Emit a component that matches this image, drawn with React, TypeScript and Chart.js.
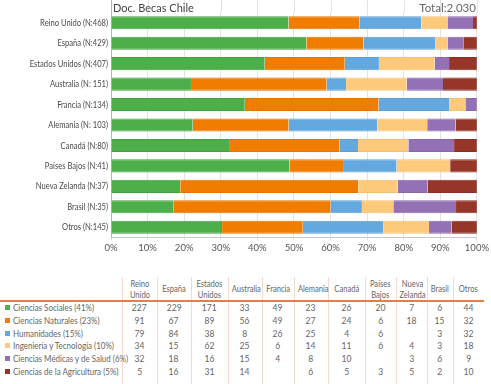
import React, { useEffect, useRef } from "react";
import { Chart, registerables } from "chart.js";

Chart.register(...registerables);

// ---- data ----
const countryLabels = [
  "Reino Unido (N:468)",
  "España (N:429)",
  "Estados Unidos (N:407)",
  "Australia (N: 151)",
  "Francia (N:134)",
  "Alemania (N: 103)",
  "Canadá (N:80)",
  "Países Bajos (N:41)",
  "Nueva Zelanda (N:37)",
  "Brasil (N:35)",
  "Otros (N:145)",
];
const tableHeaders = [
  "Reino\nUnido",
  "España",
  "Estados\nUnidos",
  "Australia",
  "Francia",
  "Alemania",
  "Canadá",
  "Países\nBajos",
  "Nueva\nZelanda",
  "Brasil",
  "Otros",
];
const fieldNames = [
  "Ciencias Sociales (41%)",
  "Ciencias Naturales (23%)",
  "Humanidades (15%)",
  "Ingeniería y Tecnología (10%)",
  "Ciencias Médicas y de Salud (6%)",
  "Ciencias de la Agricultura (5%)",
];
const sociales = [227, 229, 171, 33, 49, 23, 26, 20, 7, 6, 44];
const naturales = [91, 67, 89, 56, 49, 27, 24, 6, 18, 15, 32];
const humanidades = [79, 84, 38, 8, 26, 25, 4, 6, null, 3, 32];
const ingenieria = [34, 15, 62, 25, 6, 14, 11, 6, 4, 3, 18];
const medicas = [32, 18, 16, 15, 4, 8, 10, null, 3, 6, 9];
const agricultura = [5, 16, 31, 14, null, 6, 5, 3, 5, 2, 10];
const chartTitle = "Doc. Becas Chile";
const totalLabel = "Total:2.030";

// ---- styles ----
const fieldColors = ["#4DAF4A", "#F07D00", "#63A9DF", "#FDCA7B", "#9471B4", "#963629"];
const fieldBorders = ["#43A040", "#E57500", "#5B9FD6", "#F5C070", "#8A67AA", "#8A2F23"];
const FONT = "Lato, 'DejaVu Sans', sans-serif";
const colWidths = [35, 34, 37, 34, 32, 34, 37, 31, 31, 26, 31];

const series = [sociales, naturales, humanidades, ingenieria, medicas, agricultura];
const totals = countryLabels.map((_, i) =>
  series.reduce((s, arr) => s + (arr[i] ?? 0), 0)
);

const decorPlugin = {
  id: "decor",
  afterDraw(chart: any) {
    const { ctx, chartArea, scales } = chart;
    const x = scales.x;
    const y = scales.y;
    ctx.save();
    ctx.lineWidth = 1;
    ctx.strokeStyle = "#e3e3e3";
    x.ticks.forEach((t: any) => {
      const px = Math.round(x.getPixelForValue(t.value)) + 0.5;
      if (t.value === 0) return;
      ctx.beginPath();
      ctx.moveTo(px, 0);
      ctx.lineTo(px, chartArea.top);
      ctx.stroke();
    });
    ctx.strokeStyle = "#b5b5b5";
    const lx = Math.round(chartArea.left) + 0.5;
    ctx.beginPath();
    ctx.moveTo(lx, 0);
    ctx.lineTo(lx, chartArea.top);
    ctx.stroke();
    ctx.fillStyle = "#444";
    ctx.font = `11px ${FONT}`;
    ctx.textBaseline = "alphabetic";
    ctx.textAlign = "left";
    ctx.fillText(chartTitle, chartArea.left + 2, 12);
    ctx.textAlign = "right";
    ctx.fillStyle = "#666";
    ctx.font = `11.5px ${FONT}`;
    ctx.fillText(totalLabel, chartArea.right - 1, 12);
    // condensed category labels
    ctx.font = `9.5px ${FONT}`;
    ctx.fillStyle = "#4a4a4a";
    ctx.textAlign = "right";
    ctx.textBaseline = "middle";
    (chart.data.labels as string[]).forEach((lab: string, i: number) => {
      const py = y.getPixelForTick(i);
      ctx.save();
      ctx.translate(chartArea.left - 3, py);
      ctx.scale(0.8, 1);
      ctx.fillText(lab, 0, 0);
      ctx.restore();
    });
    ctx.restore();
  },
};

function BarChart() {
  const ref = useRef<HTMLCanvasElement | null>(null);
  useEffect(() => {
    if (!ref.current) return;
    const chart = new Chart(ref.current, {
      type: "bar",
      data: {
        labels: countryLabels,
        datasets: series.map((arr, k) => ({
          label: fieldNames[k],
          data: arr.map((v, i) => (v == null ? 0 : (v / totals[i]) * 100)),
          backgroundColor: fieldColors[k],
          borderColor: fieldBorders[k],
          borderWidth: { top: 1, bottom: 1, left: 0, right: 0 },
          borderSkipped: false,
          barPercentage: 0.64,
          categoryPercentage: 1,
        })),
      },
      options: {
        indexAxis: "y",
        animation: false,
        responsive: false,
        maintainAspectRatio: false,
        layout: { padding: { top: 12.5, right: 12, left: 0, bottom: 0 } },
        plugins: { legend: { display: false }, tooltip: { enabled: false }, title: { display: false } },
        scales: {
          x: {
            stacked: true,
            min: 0,
            max: 100,
            ticks: {
              stepSize: 10,
              callback: (v: any) => v + "%",
              color: "#555",
              font: { family: FONT, size: 9.5 },
              padding: 2,
              maxRotation: 0,
            },
            grid: { color: "#e3e3e3", tickLength: 3 },
            border: { display: true, color: "#c8c8c8" },
            afterFit: (s: any) => {
              s.height = 22.5;
            },
          },
          y: {
            stacked: true,
            ticks: { display: false, autoSkip: false },
            grid: { display: false, drawTicks: false },
            border: { display: true, color: "#b5b5b5" },
            afterFit: (s: any) => {
              s.width = 111;
            },
          },
        },
      },
      plugins: [decorPlugin],
    });
    return () => chart.destroy();
  }, []);
  return <canvas ref={ref} width={491} height={260} style={{ display: "block" }} />;
}

function Cond({ children, scale, origin }: { children: any; scale: number; origin?: string }) {
  return (
    <span
      style={{
        display: "inline-block",
        transform: `scaleX(${scale})`,
        transformOrigin: origin || "center center",
        whiteSpace: "pre",
      }}
    >
      {children}
    </span>
  );
}

function DataTable() {
  const cellBase: React.CSSProperties = {
    padding: 0,
    textAlign: "center",
    borderLeft: "1px solid #f6d9cd",
    color: "#666",
    overflow: "visible",
  };
  return (
    <table
      style={{
        position: "absolute",
        left: 0,
        top: 277,
        borderCollapse: "collapse",
        tableLayout: "fixed",
        width: 484,
        fontFamily: FONT,
        fontSize: 9.5,
        color: "#666",
      }}
    >
      <colgroup>
        <col style={{ width: 122 }} />
        {colWidths.map((w, i) => (
          <col key={i} style={{ width: w }} />
        ))}
      </colgroup>
      <thead>
        <tr style={{ height: 24, borderBottom: "2px solid #ea7c46" }}>
          <th style={{ padding: 0, fontWeight: "normal" }}></th>
          {tableHeaders.map((h, i) => (
            <th
              key={i}
              style={{
                ...cellBase,
                fontWeight: "normal",
                fontSize: 9,
                lineHeight: "11px",
                verticalAlign: "middle",
              }}
            >
              <Cond scale={0.84}>{h}</Cond>
            </th>
          ))}
        </tr>
      </thead>
      <tbody>
        {series.map((arr, k) => (
          <tr key={k} style={{ height: 12.8 }}>
            <td style={{ padding: 0, whiteSpace: "nowrap", lineHeight: "12.8px", overflow: "visible" }}>
              <span
                style={{
                  display: "inline-block",
                  width: 5,
                  height: 5,
                  background: fieldColors[k],
                  marginLeft: 5,
                  marginRight: 3,
                  verticalAlign: "middle",
                  position: "relative",
                  top: -1,
                }}
              />
              <Cond scale={0.84} origin="left center">
                {fieldNames[k]}
              </Cond>
            </td>
            {arr.map((v, i) => (
              <td key={i} style={{ ...cellBase, lineHeight: "12.8px" }}>
                <Cond scale={0.9}>{v == null ? "" : String(v)}</Cond>
              </td>
            ))}
          </tr>
        ))}
        <tr style={{ height: 6 }}>
          <td style={{ padding: 0 }}></td>
          {colWidths.map((_, i) => (
            <td key={i} style={{ ...cellBase }}></td>
          ))}
        </tr>
      </tbody>
    </table>
  );
}

export default function App() {
  return (
    <div
      style={{
        position: "fixed",
        left: 0,
        top: 0,
        width: 491,
        height: 384,
        background: "#fff",
        overflow: "hidden",
      }}
    >
      <BarChart />
      <DataTable />
    </div>
  );
}
